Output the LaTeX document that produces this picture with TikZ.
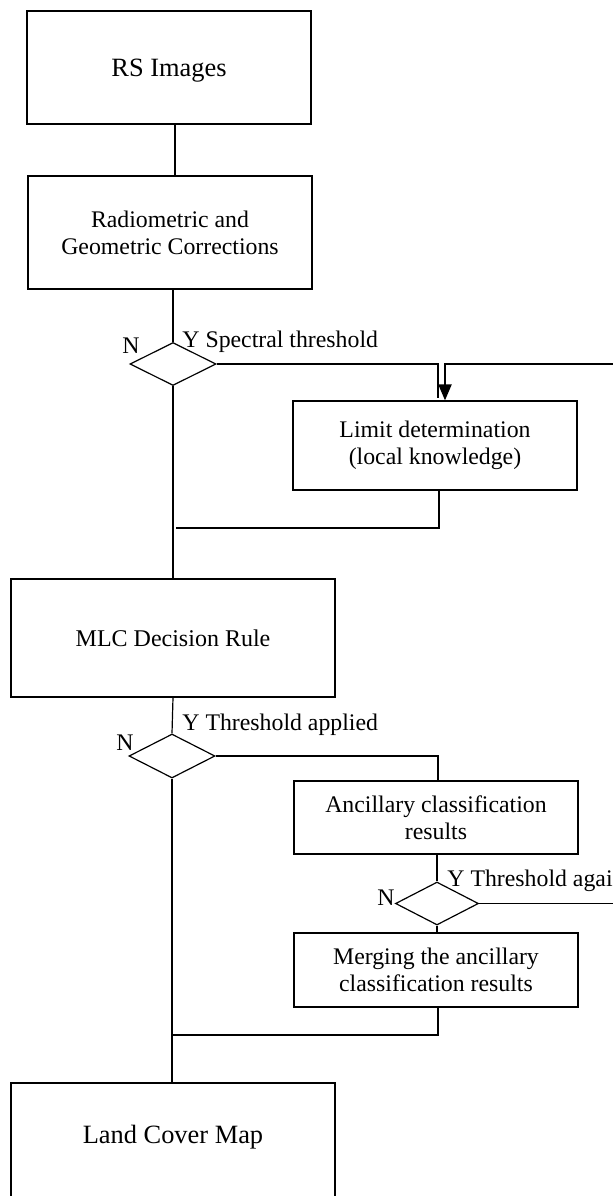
\documentclass[tikz,border=0pt]{standalone}
\usepackage{fontspec}
\setmainfont{Liberation Serif}
\usetikzlibrary{shapes.geometric,arrows.meta}
\begin{document}
\begin{tikzpicture}[x=0.5pt,y=-0.5pt,
  box/.style={draw,line width=0.6pt,rectangle,inner sep=0pt,align=center,
    font=\fontsize{11.9}{13.5}\selectfont},
  dec/.style={draw,line width=0.6pt,diamond,inner sep=0pt},
  bigtxt/.style={inner sep=0pt,font=\fontsize{13.2}{15}\selectfont},
  lbl/.style={inner sep=0pt,anchor=base west,font=\fontsize{11.9}{13.5}\selectfont},
  nlbl/.style={inner sep=0pt,font=\fontsize{11.9}{13.5}\selectfont},
  conn/.style={line width=0.6pt},
  loop/.style={line width=1.1pt},
]
\useasboundingbox (0,0) rectangle (613,1196);
\clip (0,0) rectangle (613,1196);

% boxes
\node[box,minimum width=142pt,minimum height=56.5pt] (rs) at (169,67.5) {};
\node[bigtxt] (rst) at (169,71) {RS Images};
\node[box,minimum width=142pt,minimum height=56.5pt] (rad) at (170,232.5) {Radiometric and\\Geometric Corrections};
\node[dec,minimum width=43pt,minimum height=21.5pt] (d1) at (173,364) {};
\node[box,minimum width=142pt,minimum height=44.5pt] (lim) at (435,445.5) {Limit determination\\(local knowledge)};
\node[box,minimum width=162pt,minimum height=59pt,font=\fontsize{12}{14}\selectfont] (mlc) at (173,638) {MLC Decision Rule};
\node[dec,minimum width=43pt,minimum height=22pt] (d2) at (172,756) {};
\node[box,minimum width=142pt,minimum height=36.5pt] (anc) at (436,817.5) {Ancillary classification\\results};
\node[dec,minimum width=41.5pt,minimum height=21.5pt] (d3) at (437,903.5) {};
\node[box,minimum width=142pt,minimum height=37pt] (mrg) at (436,970) {Merging the ancillary\\classification results};
\node[box,minimum width=162pt,minimum height=59pt] (lcm) at (173,1142) {};
\node[bigtxt] (lcmt) at (173,1137) {Land Cover Map};

% labels
\node[nlbl] (n1) at (131,346) {N};
\node[lbl] (y1) at (182,347) {Y Spectral threshold};
\node[nlbl] (n2) at (125,743) {N};
\node[lbl] (y2) at (182,730) {Y Threshold applied};
\node[nlbl] (n3) at (386,898) {N};
\node[lbl] (y3) at (447,886) {Y Threshold again};

% junction / free-end coordinates
\coordinate (r1) at (613,364);
\coordinate (r2) at (613,903.5);
\coordinate (j1) at (176,528);
\coordinate (j2) at (173,1035);

% connectors
\draw[conn] ([xshift=3pt]rs.south) -- ([xshift=3pt]rs.south |- rad.north);
\draw[conn] (d1.north |- rad.south) -- (d1.north);
\draw[conn] (d1.east) -| ([xshift=1.5pt,yshift=1pt]lim.north);
\draw[loop,-{Triangle[length=8pt,width=6.5pt]}] (r1) -| ([xshift=5pt]lim.north);
\draw[conn] ([xshift=2pt]lim.south) |- (j1);
\draw[conn] (d1.south) -- (mlc.north);
\draw[conn] (mlc.south) -- (d2.north);
\draw[conn] (d2.east) -| ([xshift=1pt]anc.north);
\draw[conn] ([xshift=0.5pt]anc.south) -- (d3.north);
\draw[conn] (d3.east) -- (r2);
\draw[conn] (d3.south) -- ([xshift=0.5pt]mrg.north);
\draw[conn] ([xshift=1pt]mrg.south) |- (j2);
\draw[conn] (d2.south) -- (d2.south |- lcm.north);
\end{tikzpicture}
\end{document}
